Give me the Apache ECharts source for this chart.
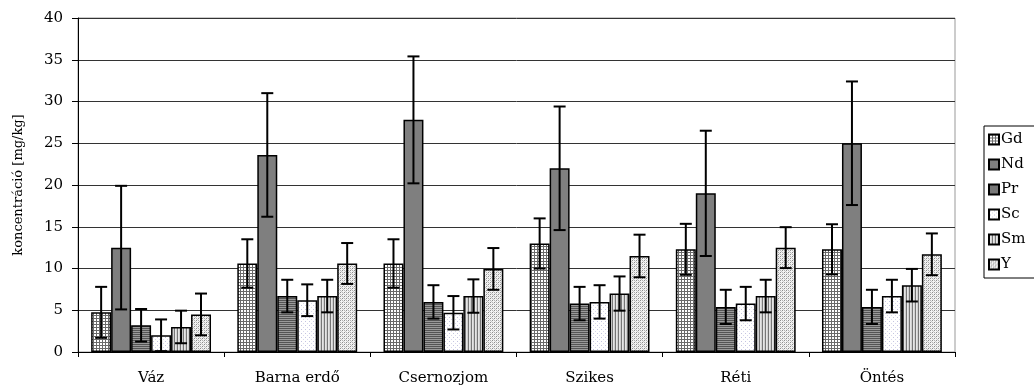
<!DOCTYPE html>
<html>
<head>
<meta charset="utf-8">
<script src="https://cdn.jsdelivr.net/npm/echarts@6/dist/echarts.min.js"></script>
<style>html,body{margin:0;padding:0;background:#fff}#c{width:1034px;height:389px}</style>
</head>
<body>
<div id="c"></div>
<script>
const categories = ['Váz', 'Barna erdő', 'Csernozjom', 'Szikes', 'Réti', 'Öntés'];
const names = ['Gd', 'Nd', 'Pr', 'Sc', 'Sm', 'Y'];
const Gd = [4.75, 10.6, 10.6, 13.0, 12.3, 12.3];
const GdErr = [3.05, 2.9, 2.9, 3.0, 3.05, 3.0];
const Nd = [12.5, 23.6, 27.8, 22.0, 19.0, 25.0];
const NdErr = [7.4, 7.4, 7.6, 7.4, 7.5, 7.4];
const Pr = [3.2, 6.7, 6.0, 5.8, 5.4, 5.4];
const PrErr = [1.95, 1.95, 2.0, 2.0, 2.05, 2.05];
const Sc = [2.0, 6.2, 4.7, 6.0, 5.8, 6.7];
const ScErr = [1.9, 1.9, 2.0, 2.0, 2.0, 1.95];
const Sm = [3.0, 6.7, 6.7, 7.0, 6.7, 8.0];
const SmErr = [1.95, 1.95, 2.0, 2.05, 1.95, 1.95];
const Y = [4.5, 10.6, 9.95, 11.5, 12.5, 11.7];
const YErr = [2.5, 2.45, 2.5, 2.55, 2.45, 2.5];
const yTicks = [0, 5, 10, 15, 20, 25, 30, 35, 40];

const values = [Gd, Nd, Pr, Sc, Sm, Y];
const errors = [GdErr, NdErr, PrErr, ScErr, SmErr, YErr];

function tile(w, h, draw) {
  const c = document.createElement('canvas');
  c.width = w; c.height = h;
  const g = c.getContext('2d');
  draw(g);
  return {image: c, repeat: 'repeat'};
}
function px(g, x, y, col) { g.fillStyle = col; g.fillRect(x, y, 1, 1); }

const patterns = [
  // Gd: fine grid
  tile(3, 3, g => { g.fillStyle = '#fff'; g.fillRect(0,0,3,3); g.fillStyle = '#6a6a6a'; g.fillRect(0,0,3,1); g.fillRect(0,0,1,3); }),
  // Nd: solid dark gray
  '#7f7f7f',
  // Pr: horizontal lines
  tile(1, 2, g => { px(g,0,0,'#555'); px(g,0,1,'#9a9a9a'); }),
  // Sc: sparse dots
  tile(4, 4, g => { g.fillStyle = '#fff'; g.fillRect(0,0,4,4); px(g,1,1,'#c4c4e0'); px(g,3,3,'#d8d8ec'); }),
  // Sm: vertical lines
  tile(3, 1, g => { px(g,0,0,'#777'); px(g,1,0,'#e6e6e6'); px(g,2,0,'#d0d0d0'); }),
  // Y: stipple
  tile(4, 4, g => { g.fillStyle = '#f2f2f2'; g.fillRect(0,0,4,4); px(g,0,0,'#8c8c8c'); px(g,2,2,'#8c8c8c'); px(g,2,0,'#b0b0b0'); px(g,0,2,'#b0b0b0'); px(g,1,3,'#c8c8c8'); px(g,3,1,'#c8c8c8'); })
];

const CAT_GAP = 0.18;
const series = [];
names.forEach((n, i) => {
  series.push({
    name: n, type: 'bar', data: values[i],
    barGap: 0, barCategoryGap: (CAT_GAP * 100) + '%',
    itemStyle: {color: patterns[i], borderColor: '#000', borderWidth: 1.5},
    emphasis: {disabled: true}, z: 2
  });
});
names.forEach((n, i) => {
  series.push({
    name: n + ' err', type: 'custom', z: 5,
    data: values[i].map((v, k) => [k, v, errors[i][k]]),
    renderItem: function (params, api) {
      const k = api.value(0), v = api.value(1), e = api.value(2);
      const band = api.size([1, 0])[0];
      const bw = band * (1 - CAT_GAP) / names.length;
      const c = api.coord([k, v]);
      const x = c[0] + (i - (names.length - 1) / 2) * bw;
      const top = api.coord([k, v + e])[1];
      const bot = api.coord([k, Math.max(0, v - e)])[1];
      const cap = 6;
      const st = {stroke: '#000', lineWidth: 2};
      return {type: 'group', children: [
        {type: 'line', shape: {x1: x, y1: top, x2: x, y2: bot}, style: st},
        {type: 'line', shape: {x1: x - cap, y1: top, x2: x + cap, y2: top}, style: st},
        {type: 'line', shape: {x1: x - cap, y1: bot, x2: x + cap, y2: bot}, style: st}
      ]};
    }
  });
});

const font = '"DejaVu Serif", "Liberation Serif", serif';
const chart = echarts.init(document.getElementById('c'), null, {renderer: 'canvas'});
chart.setOption({
  animation: false,
  textStyle: {fontFamily: font, color: '#000'},
  grid: {left: 78, right: 79, top: 18, bottom: 37, show: true, borderColor: '#999', borderWidth: 1},
  legend: {
    data: names, orient: 'vertical', left: 984, top: 126,
    icon: 'rect', itemWidth: 10, itemHeight: 10, itemGap: 10,
    padding: [6, 40, 6, 4],
    borderColor: '#000', borderWidth: 1,
    textStyle: {fontFamily: font, fontSize: 15, color: '#000', lineHeight: 14, padding: [0,0,0,-3]}
  },
  xAxis: {
    type: 'category', data: categories,
    axisLine: {lineStyle: {color: '#000', width: 1}},
    axisTick: {show: true, length: 5, lineStyle: {color: '#000'}},
    axisLabel: {fontFamily: font, fontSize: 15, color: '#000', margin: 19}
  },
  yAxis: {
    type: 'value', min: 0, max: 40, interval: 5,
    name: 'koncentráció [mg/kg]', nameLocation: 'middle', nameGap: 53, nameRotate: 90,
    nameTextStyle: {fontFamily: font, fontSize: 13, color: '#000'},
    axisLine: {show: true, lineStyle: {color: '#000', width: 1}},
    axisTick: {show: true, length: 6, lineStyle: {color: '#000'}},
    axisLabel: {fontFamily: font, fontSize: 15, color: '#000', margin: 15,
      formatter: v => yTicks.includes(v) ? String(v) : ''},
    splitLine: {show: true, lineStyle: {color: '#333', width: 1}}
  },
  series: series
});
</script>
</body>
</html>
